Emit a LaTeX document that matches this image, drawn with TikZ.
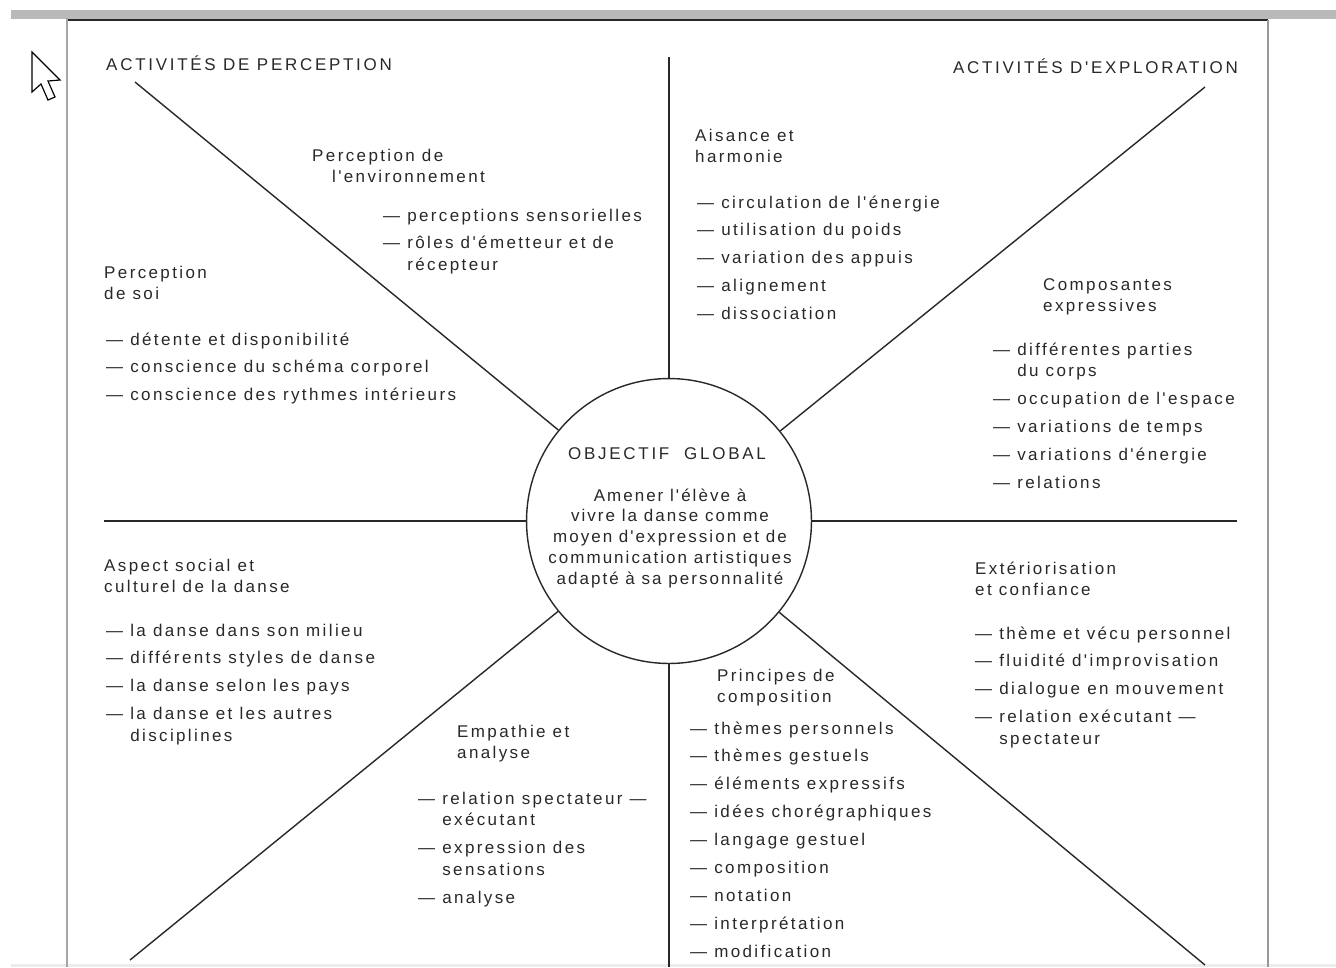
\documentclass[tikz,border=0pt]{standalone}
\usepackage{fontspec}
\setmainfont{Liberation Sans}
\newfontfamily\bodyf{Liberation Sans}[LetterSpace=14]
\newfontfamily\circf{Liberation Sans}[LetterSpace=12]
\newfontfamily\titlef{Liberation Sans}[LetterSpace=16]
\definecolor{ink}{RGB}{40,40,40}
\newcommand{\itm}{—\ }
\newcommand{\hind}{\hphantom{—\ }}
\newcommand{\nx}{\\[5.1pt]}
\newcommand{\blocktab}[1]{\begin{tabular}[t]{@{}l@{}}#1\end{tabular}}
\newcommand{\centtab}[1]{\begin{tabular}[t]{@{}c@{}}#1\end{tabular}}
\tikzset{
  blk/.style={anchor=base west, inner sep=0pt, text=ink,
    font=\bodyf\fontsize{14.5pt}{18.7pt}\selectfont},
  ttl/.style={inner sep=0pt, text=ink,
    font=\titlef\fontsize{14.5pt}{18.7pt}\selectfont},
  ray/.style={draw=ink, line width=1.2pt},
  frame/.style={draw=ink, line width=1.2pt},
}
\begin{document}
\begin{tikzpicture}[x=0.03cm, y=-0.03cm]
\useasboundingbox (0,0) rectangle (1336,967);
% top band and bottom band
\fill[gray!55] (11,10) rectangle (1336,19);
\fill[gray!15] (11,964) rectangle (1336,967);
% frame
\draw[frame] (67,20) -- (1268,20);
\draw[frame, draw=gray!70, line width=1.8pt] (67,18) -- (67,967);
\draw[frame, draw=gray!80] (1268,20) -- (1268,967);
% cursor
\draw[line width=1pt, fill=white, line join=miter]
  (32,52) -- (32,92) -- (41,84) -- (48,100) -- (55,97) -- (48,81) -- (60,80) -- cycle;

% central circle
\node[circle, draw=ink, line width=1.2pt, minimum size=243.2pt, inner sep=0pt] (c) at (669,521) {};
\node[ttl, anchor=base] (obj) at (667,459) {OBJECTIF\ \ GLOBAL};
\node[blk, anchor=base] (objtxt) at (670,501) {\circf\fontsize{14.5pt}{17.9pt}\selectfont\centtab{Amener l'élève à\\vivre la danse comme\\moyen d'expression et de\\communication artistiques\\adapté à sa personnalité}};

% rays
\coordinate (pn) at (669,57);
\coordinate (ps) at (669,967);
\coordinate (pw) at (104,521);
\coordinate (pe) at (1237,521);
\coordinate (pnw) at (135,82);
\coordinate (pne) at (1205,87);
\coordinate (psw) at (130,960);
\coordinate (pse) at (1205,965);
\foreach \p in {pn,ps,pw,pe,pnw,pne,psw,pse} \draw[ray] (\p) -- (c);

% titles
\node[ttl, anchor=base west] (tperc) at (106,70) {ACTIVITÉS\ DE\ PERCEPTION};
\node[ttl, anchor=base east] (texpl) at (1238,73) {ACTIVITÉS\ D'EXPLORATION};

% upper left quadrant
\node[blk] (envh) at (312,161) {\blocktab{Perception de\\\hspace{17pt}l'environnement}};
\node[blk] (envi) at (383,221) {\blocktab{\itm perceptions sensorielles\nx\itm rôles d'émetteur et de\\\hind récepteur}};
\node[blk] (soih) at (104,278) {\blocktab{Perception\\de soi}};
\node[blk] (soii) at (106,345) {\blocktab{\itm détente et disponibilité\nx\itm conscience du schéma corporel\nx\itm conscience des rythmes intérieurs}};

% upper right quadrant
\node[blk] (aish) at (695,141) {\blocktab{Aisance et\\harmonie}};
\node[blk] (aisi) at (697,208) {\blocktab{\itm circulation de l'énergie\nx\itm utilisation du poids\nx\itm variation des appuis\nx\itm alignement\nx\itm dissociation}};
\node[blk] (comph) at (1043,290) {\blocktab{Composantes\\expressives}};
\node[blk] (compi) at (993,355) {\blocktab{\itm différentes parties\\\hind du corps\nx\itm occupation de l'espace\nx\itm variations de temps\nx\itm variations d'énergie\nx\itm relations}};

% lower left quadrant
\node[blk] (asph) at (104,571) {\blocktab{Aspect social et\\culturel de la danse}};
\node[blk] (aspi) at (106,636) {\blocktab{\itm la danse dans son milieu\nx\itm différents styles de danse\nx\itm la danse selon les pays\nx\itm la danse et les autres\\\hind disciplines}};
\node[blk] (emph) at (457,737) {\blocktab{Empathie et\\analyse}};
\node[blk] (empi) at (418,804) {\blocktab{\itm relation spectateur —\\\hind exécutant\nx\itm expression des\\\hind sensations\nx\itm analyse}};

% lower right quadrant
\node[blk] (exth) at (975,574) {\blocktab{Extériorisation\\et confiance}};
\node[blk] (exti) at (975,639) {\blocktab{\itm thème et vécu personnel\nx\itm fluidité d'improvisation\nx\itm dialogue en mouvement\nx\itm relation exécutant —\\\hind spectateur}};
\node[blk] (prih) at (717,681) {\blocktab{Principes de\\composition}};
\node[blk] (prii) at (690,734) {\blocktab{\itm thèmes personnels\nx\itm thèmes gestuels\nx\itm éléments expressifs\nx\itm idées chorégraphiques\nx\itm langage gestuel\nx\itm composition\nx\itm notation\nx\itm interprétation\nx\itm modification}};
\end{tikzpicture}
\end{document}
